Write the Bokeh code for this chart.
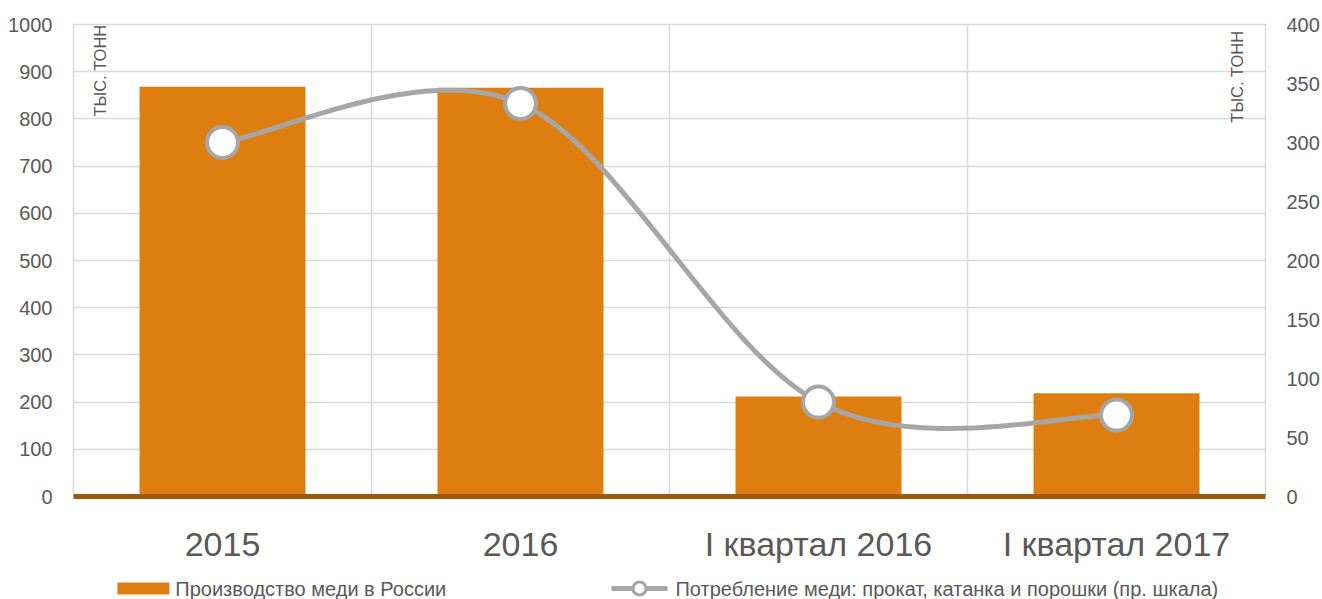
import numpy as np
from bokeh.plotting import figure
from bokeh.layouts import column
from bokeh.models import Range1d, LinearAxis, FixedTicker, Label
from bokeh.core.properties import value
from bokeh.embed import file_html
from bokeh.resources import INLINE

# ---- data ----
categories = ["2015", "2016", "I квартал 2016", "I квартал 2017"]
production = [868, 866, 212, 219]          # left scale
consumption = [300, 333, 80, 69]           # right scale
left_ticks = list(range(0, 1001, 100))
right_ticks = list(range(0, 401, 50))
unit_label = "ТЫС. ТОНН"
bar_legend = "Производство меди в России"
line_legend = "Потребление меди: прокат, катанка и порошки (пр. шкала)"

# ---- style ----
FONT = "Liberation Sans"
TEXT = "#595959"
ORANGE = "#DF7E10"
BROWN = "#9B5A0C"
GRAY = "#A6A6A6"
GRID = "#D9D9D9"

n = len(categories)
xs = [i + 0.5 for i in range(n)]

p = figure(width=1322, height=570,
           x_range=Range1d(0, n), y_range=Range1d(0, 1000),
           output_backend="svg", toolbar_location=None,
           min_border_left=73, min_border_top=24, min_border_bottom=74,
           min_border_right=55)
p.extra_y_ranges = {"right": Range1d(0, 400)}
p.outline_line_color = GRID
p.outline_line_width = 1.5
p.background_fill_color = "white"
p.border_fill_color = "white"

# grids
p.xgrid.ticker = FixedTicker(ticks=list(range(1, n)))
p.ygrid.ticker = FixedTicker(ticks=left_ticks)
for g in (p.xgrid, p.ygrid):
    g.grid_line_color = GRID
    g.grid_line_width = 1.5

# x axis
p.xaxis.ticker = FixedTicker(ticks=xs)
p.xaxis.major_label_overrides = {x: c for x, c in zip(xs, categories)}
p.xaxis.axis_line_color = BROWN
p.xaxis.axis_line_width = 5
p.xaxis.major_label_standoff = 28
p.xaxis.major_label_text_font_size = "34px"

# left axis
p.yaxis.ticker = FixedTicker(ticks=left_ticks)
p.yaxis.axis_line_color = None
p.yaxis.major_label_standoff = 21

# right axis
ra = LinearAxis(y_range_name="right", ticker=FixedTicker(ticks=right_ticks))
ra.axis_line_color = None
ra.major_label_standoff = 21
p.add_layout(ra, "right")

for ax in (p.xaxis[0], p.yaxis[0], ra):
    ax.major_tick_line_color = None
    ax.minor_tick_line_color = None
    ax.major_tick_in = 0
    ax.major_tick_out = 0
    ax.major_label_text_font = FONT
    ax.major_label_text_color = TEXT
for ax in (p.yaxis[0], ra):
    ax.major_label_text_font_size = "20px"

# bars
p.vbar(x=xs, top=production, width=0.557, fill_color=ORANGE, line_color=None)

# smoothed line (Excel-like Catmull-Rom Bezier through the points)
X = np.array(xs, float)
Y = np.array(consumption, float)
seg = {k: [] for k in ("x0", "y0", "x1", "y1", "cx0", "cy0", "cx1", "cy1")}
for i in range(n - 1):
    a = max(i - 1, 0)
    b = min(i + 2, n - 1)
    seg["x0"].append(X[i]); seg["y0"].append(Y[i])
    seg["x1"].append(X[i + 1]); seg["y1"].append(Y[i + 1])
    seg["cx0"].append(X[i] + (X[i + 1] - X[a]) / 6)
    seg["cy0"].append(Y[i] + (Y[i + 1] - Y[a]) / 6)
    seg["cx1"].append(X[i + 1] - (X[b] - X[i]) / 6)
    seg["cy1"].append(Y[i + 1] - (Y[b] - Y[i]) / 6)
p.bezier(**seg, line_color=GRAY, line_width=5, line_cap="round",
         y_range_name="right")
p.scatter(xs, consumption, size=31, fill_color="white", line_color=GRAY,
          line_width=4, y_range_name="right")

# unit labels (kept inside the frame, which clips annotations)
for ux, uy in ((0.0905, 805), (3.906, 792)):
    p.add_layout(Label(x=ux, y=uy, text=unit_label, angle=90, angle_units="deg",
                       text_font=FONT, text_font_size="16.5px",
                       text_color=TEXT, text_baseline="alphabetic",
                       text_align="left"))

# ---- legend strip (x and y in page pixels) ----
lg = figure(width=1322, height=29, x_range=Range1d(73, 1267),
            y_range=Range1d(599, 570), output_backend="svg",
            toolbar_location=None, min_border=0,
            min_border_left=73, min_border_right=55)
lg.axis.visible = False
lg.grid.visible = False
lg.outline_line_color = None
lg.background_fill_color = "white"
lg.border_fill_color = "white"

lg.rect(x=[143], y=[588], width=52, height=12, fill_color=ORANGE, line_color=None)
lg.line(x=[612, 668], y=[588, 588], line_color=GRAY, line_width=5)
lg.scatter(x=[640], y=[588], size=13, fill_color="white", line_color=GRAY, line_width=3)
lg.text(x=[175, 676], y=[588.5, 588.5], text=[bar_legend, line_legend],
        text_font=value(FONT), text_font_size="20px", text_color=TEXT,
        text_baseline="middle", text_align="left")

layout = column(p, lg, spacing=0)
open("out.html", "w").write(file_html(layout, INLINE))
